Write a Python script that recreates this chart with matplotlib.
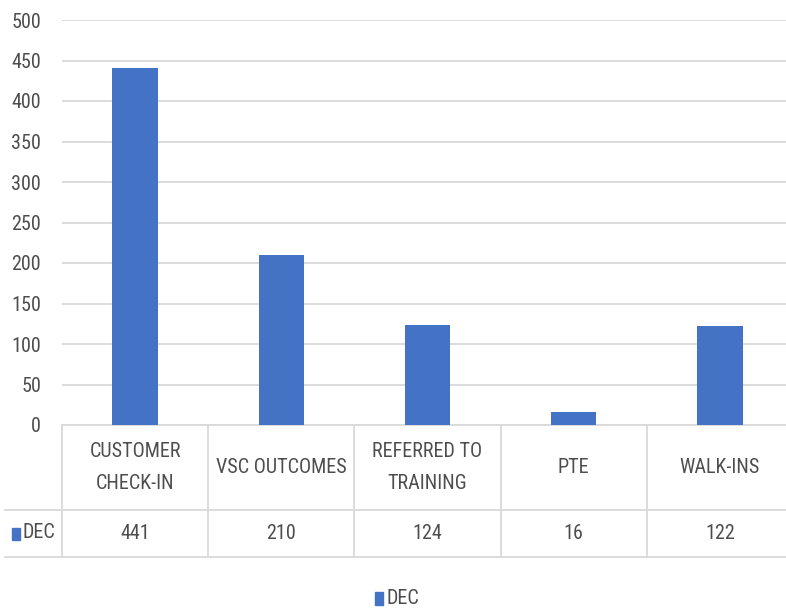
import matplotlib.pyplot as plt
from matplotlib import font_manager
from matplotlib.patches import Rectangle

names = {f.name for f in font_manager.fontManager.ttflist}
narrow = [n for n in ['Liberation Sans Narrow', 'Roboto Condensed', 'Open Sans Condensed'] if n in names]
plt.rcParams['font.family'] = narrow + ['DejaVu Sans']

categories = ['CUSTOMER\nCHECK-IN', 'VSC OUTCOMES', 'REFERRED TO\nTRAINING', 'PTE', 'WALK-INS']
series_name = 'DEC'
values = [441, 210, 124, 16, 122]
yticks = [0, 50, 100, 150, 200, 250, 300, 350, 400, 450, 500]

blue = '#4472C4'
grid = '#D9D9D9'
txt = '#4D4D4D'
fs = 14.5

W, H = 786, 610
fig = plt.figure(figsize=(W / 100, H / 100), dpi=100)
ax = fig.add_axes([62 / W, (H - 425) / H, (793 - 62) / W, (425 - 20) / H])

x = list(range(len(categories)))
ax.bar(x, values, width=0.31, color=blue, zorder=3)
ax.set_xlim(-0.5, len(categories) - 0.5)
ax.set_ylim(0, 500)
ax.set_yticks(yticks)
ax.yaxis.grid(True, color=grid, linewidth=1.3)
ax.set_axisbelow(True)
ax.set_xticks([])
ax.tick_params(axis='y', length=0, pad=15, labelsize=fs, labelcolor=txt)
for s in ['top', 'right', 'left']:
    ax.spines[s].set_visible(False)
ax.spines['bottom'].set_color(grid)
ax.spines['bottom'].set_linewidth(1.3)

# data table under the axis
tr = ax.get_xaxis_transform()
row1 = -(510 - 425) / 405
row2 = -(557 - 425) / 405
x_left = -0.5
x_edge = x_left - (62 - 5) * (len(categories) / (793 - 62))
for b in [i - 0.5 for i in range(len(categories) + 1)]:
    ax.plot([b, b], [0, row2], transform=tr, color=grid, lw=1.3, clip_on=False)
for yy in [row1, row2]:
    ax.plot([x_edge, len(categories) - 0.5], [yy, yy], transform=tr, color=grid, lw=1.3, clip_on=False)

for i, (c, v) in enumerate(zip(categories, values)):
    ax.text(i, row1 / 2, c, transform=tr, ha='center', va='center', fontsize=fs,
            color=txt, linespacing=1.9, clip_on=False)
    ax.text(i, (row1 + row2) / 2, str(v), transform=tr, ha='center', va='center',
            fontsize=fs, color=txt, clip_on=False)

# legend key inside the table
fig.patches.append(Rectangle((12 / W, (H - 540) / H), 8 / W, 12 / H, transform=fig.transFigure,
                             color=blue))
fig.text(23 / W, (H - 533) / H, series_name, ha='left', va='center', fontsize=fs, color=txt)

# legend at the bottom
fig.patches.append(Rectangle((375 / W, (H - 605) / H), 8 / W, 13 / H, transform=fig.transFigure,
                             color=blue))
fig.text(387 / W, (H - 598) / H, series_name, ha='left', va='center', fontsize=fs, color=txt)

fig.savefig('out.png', dpi=100, facecolor='white')
